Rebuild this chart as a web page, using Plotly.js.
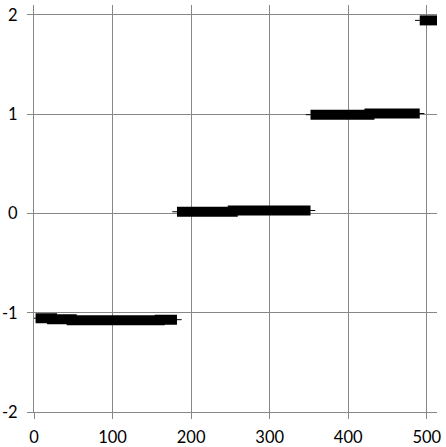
<!DOCTYPE html>
<html>
<head>
<meta charset="utf-8">
<script src="https://cdn.plot.ly/plotly-3.0.1.min.js"></script>
<style>
html,body{margin:0;padding:0;background:#fff;}
#chart{width:446px;height:447px;}
</style>
</head>
<body>
<div id="chart"></div>
<script>
// Segment data (x positions where the level changes, y level from that x on)
const seg1X = [2, 23, 48, 114, 160, 182];
const seg1Y = [-1.055, -1.065, -1.075, -1.075, -1.07, -1.07];
const seg2X = [182, 253, 352];
const seg2Y = [0.017, 0.03, 0.03];
const seg3X = [352, 427, 491];
const seg3Y = [0.995, 1.007, 1.007];
const seg4X = [491, 514];
const seg4Y = [1.945, 1.945];

const xTicks = [0, 100, 200, 300, 400, 500];
const yTicks = [-2, -1, 0, 1, 2];

const segments = [[seg1X, seg1Y], [seg2X, seg2Y], [seg3X, seg3Y], [seg4X, seg4Y]];
const tail = 6;
const traces = [];
segments.forEach(([sx, sy]) => {
  traces.push({
    x: [sx[0] - tail, ...sx, sx[sx.length - 1] + tail],
    y: [sy[0], ...sy, sy[sy.length - 1]],
    mode: 'lines', line: {color: '#000', width: 1, shape: 'hv'},
    hoverinfo: 'skip', showlegend: false, cliponaxis: false
  });
  traces.push({
    x: sx, y: sy,
    mode: 'lines', line: {color: '#000', width: 10, shape: 'hv'},
    showlegend: false, cliponaxis: false
  });
});

const axisCommon = {
  showgrid: true, gridcolor: '#878787', gridwidth: 1,
  showline: true, linecolor: '#878787', linewidth: 1,
  ticks: 'outside', ticklen: 6, tickcolor: '#878787', tickwidth: 1,
  zeroline: false,
  tickfont: {family: 'Lato, "Open Sans", sans-serif', size: 16.5, color: '#000'}
};

const layout = {
  width: 446, height: 447,
  margin: {l: 34, r: 9, t: 5, b: 35},
  paper_bgcolor: '#fff', plot_bgcolor: '#fff',
  xaxis: Object.assign({}, axisCommon, {range: [0, 513], tickvals: xTicks, ticktext: xTicks.map(String), ticklabelstandoff: 4}),
  yaxis: Object.assign({}, axisCommon, {range: [-2, 2.1], tickvals: yTicks, ticktext: yTicks.map(String), ticklabelstandoff: 6}),
};

Plotly.newPlot('chart', traces, layout, {displayModeBar: false, staticPlot: true});
</script>
</body>
</html>
